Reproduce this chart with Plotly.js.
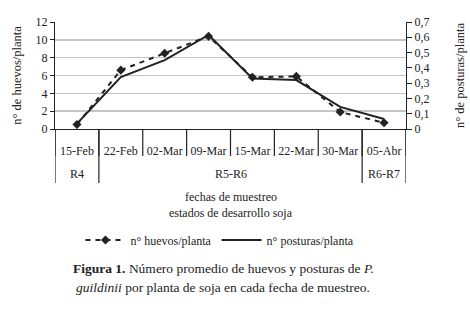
<!DOCTYPE html>
<html><head><meta charset="utf-8">
<script src="https://cdn.plot.ly/plotly-3.0.1.min.js"></script>
<style>body{margin:0;background:#fff}#chart{width:470px;height:310px}</style>
</head><body><div id="chart"></div>
<script>
const fechas = ["15-Feb","22-Feb","02-Mar","09-Mar","15-Mar","22-Mar","30-Mar","05-Abr"];
const huevos = [0.5, 6.6, 8.5, 10.4, 5.8, 5.9, 1.9, 0.7];
const posturas = [0.035, 0.34, 0.45, 0.615, 0.33, 0.32, 0.145, 0.065];
const estados = ["R4","R5-R6","R6-R7"];
const estadoInicio = [0, 1, 7];
const estadoFin = [0, 6, 7];

const FONT = "Liberation Serif, Times New Roman, serif";
const TXT = "#222";
const H = 107; // plot height px
const py = px => -(px) / H;

const shapes = [];
for (let i = 0; i <= fechas.length; i++) {
  shapes.push({type:"line", xref:"x", yref:"paper", x0:i-0.5, x1:i-0.5, y0:0, y1:py(27),
    line:{color:"#222", width:1.2}});
}
const bounds = new Set();
estadoInicio.forEach(s => bounds.add(s - 0.5));
estadoFin.forEach(e => bounds.add(e + 0.5));
bounds.forEach(b => shapes.push({type:"line", xref:"x", yref:"paper", x0:b, x1:b, y0:0, y1:py(54),
  line:{color:"#222", width:1.2}}));

const annotations = estados.map((e, k) => ({
  xref:"x", yref:"paper", x:(estadoInicio[k] + estadoFin[k]) / 2, y:py(45),
  text:e, showarrow:false, font:{family:FONT, size:12, color:TXT}, yanchor:"middle"
}));
annotations.push({xref:"paper", yref:"paper", x:0.5, y:py(68), text:"fechas de muestreo",
  showarrow:false, font:{family:FONT, size:12, color:TXT}, yanchor:"middle"});
annotations.push({xref:"paper", yref:"paper", x:0.5, y:py(84), text:"estados de desarrollo soja",
  showarrow:false, font:{family:FONT, size:12, color:TXT}, yanchor:"middle"});
annotations.push({xref:"paper", yref:"paper", x:(223-55)/351, y:py(139),
  text:"<b>Figura 1.</b> Número promedio de huevos y posturas de <i>P.</i>",
  showarrow:false, font:{family:FONT, size:13.5, color:TXT}, xanchor:"center", yanchor:"middle"});
annotations.push({xref:"paper", yref:"paper", x:(223-55)/351, y:py(158),
  text:"<i>guildinii</i> por planta de soja en cada fecha de muestreo.",
  showarrow:false, font:{family:FONT, size:13.5, color:TXT}, xanchor:"center", yanchor:"middle"});

const data = [
  {x:fechas, y:huevos, type:"scatter", mode:"lines+markers", name:"n° huevos/planta",
   line:{color:"#222", width:2, dash:"5px,5px"}, marker:{symbol:"diamond", size:7, color:"#222"}},
  {x:fechas, y:posturas, type:"scatter", mode:"lines", name:"n° posturas/planta", yaxis:"y2",
   line:{color:"#222", width:2}}
];

const layout = {
  width:470, height:310,
  margin:{l:55, r:64, t:22, b:181},
  paper_bgcolor:"#fff", plot_bgcolor:"#fff",
  separators:",.",
  font:{family:FONT, size:12, color:TXT},
  showlegend:true,
  legend:{orientation:"h", x:0.47, xanchor:"center", y:py(111), yanchor:"middle",
    itemwidth:40, font:{family:FONT, size:12, color:TXT}, bgcolor:"rgba(0,0,0,0)"},
  xaxis:{type:"category", range:[-0.5, fechas.length - 0.5], showgrid:false, zeroline:false,
    showline:true, linecolor:"#222", linewidth:1.2, ticks:"", ticklabelstandoff:10,
    tickfont:{family:FONT, size:12, color:TXT}},
  yaxis:{range:[0,12], dtick:2, showgrid:true, gridcolor:"#c4c4c4", gridwidth:1.5, zeroline:false,
    showline:true, linecolor:"#222", linewidth:1.2, ticks:"outside", ticklen:4, tickcolor:"#222",
    tickfont:{family:FONT, size:12, color:TXT},
    title:{text:"n° de huevos/planta", font:{family:FONT, size:12.5, color:TXT}, standoff:11}},
  yaxis2:{overlaying:"y", side:"right", range:[0,0.7], dtick:0.1, showgrid:false, zeroline:false,
    showline:true, linecolor:"#222", linewidth:1.2, ticks:"outside", ticklen:5, tickcolor:"#222",
    tickfont:{family:FONT, size:12, color:TXT},
    title:{text:"n° de posturas/planta", font:{family:FONT, size:12.5, color:TXT}, standoff:26}},
  shapes:shapes,
  annotations:annotations
};
Plotly.newPlot("chart", data, layout, {displayModeBar:false, staticPlot:true});
</script>
</body></html>
